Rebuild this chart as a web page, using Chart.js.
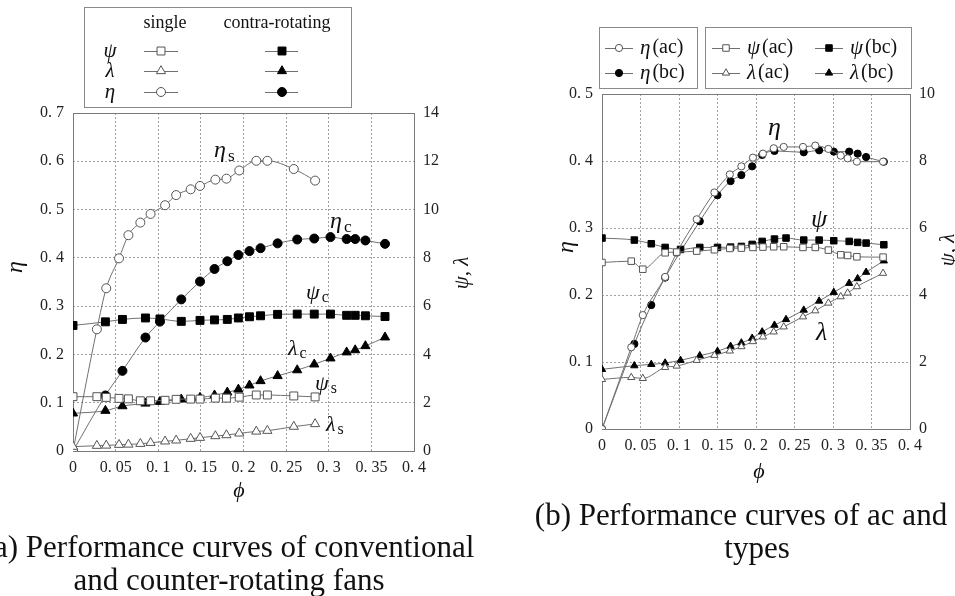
<!DOCTYPE html>
<html>
<head>
<meta charset="utf-8">
<script src="https://cdn.jsdelivr.net/npm/chart.js@4.4.1/dist/chart.umd.min.js"></script>
<style>
  html, body { margin: 0; padding: 0; background: #fff; width: 955px; height: 596px; overflow: hidden; }
  #boxA { position: absolute; left: 0; top: 0; }
  #boxB { position: absolute; left: 500px; top: 0; }
</style>
</head>
<body>
<canvas id="boxA" width="500" height="596"></canvas>
<canvas id="boxB" width="455" height="596"></canvas>
<script>
// (a) single vs contra-rotating fan
const phiSingle = [0, 0.028, 0.039, 0.054, 0.065, 0.079, 0.091, 0.108, 0.121, 0.138, 0.149, 0.167, 0.180, 0.195, 0.215, 0.228, 0.259, 0.284];
const etaSingle = [0, 0.252, 0.337, 0.399, 0.447, 0.473, 0.491, 0.509, 0.530, 0.542, 0.549, 0.562, 0.564, 0.581, 0.601, 0.601, 0.584, 0.560];
const psiSingle = [2.25, 2.25, 2.22, 2.18, 2.16, 2.08, 2.08, 2.10, 2.14, 2.15, 2.15, 2.19, 2.19, 2.23, 2.32, 2.32, 2.28, 2.24];
const lamSingle = [0.18, 0.22, 0.23, 0.26, 0.27, 0.30, 0.34, 0.40, 0.44, 0.51, 0.55, 0.62, 0.66, 0.73, 0.81, 0.84, 1.01, 1.12];

const phiContra = [0, 0.038, 0.058, 0.085, 0.102, 0.127, 0.149, 0.166, 0.181, 0.194, 0.207, 0.220, 0.240, 0.263, 0.283, 0.302, 0.321, 0.331, 0.343, 0.366];
const etaContra = [0, 0.115, 0.166, 0.235, 0.268, 0.314, 0.351, 0.377, 0.393, 0.406, 0.414, 0.420, 0.430, 0.438, 0.440, 0.443, 0.439, 0.439, 0.436, 0.429];
const psiContra = [5.20, 5.35, 5.45, 5.51, 5.47, 5.37, 5.41, 5.43, 5.45, 5.51, 5.56, 5.60, 5.66, 5.67, 5.67, 5.67, 5.62, 5.62, 5.60, 5.57];
const lamContra = [1.56, 1.67, 1.86, 1.97, 2.04, 2.14, 2.21, 2.31, 2.43, 2.55, 2.72, 2.90, 3.11, 3.35, 3.59, 3.84, 4.09, 4.18, 4.35, 4.71];

// (b) ac and bc types
const phiAc = [0, 0.038, 0.053, 0.082, 0.097, 0.123, 0.146, 0.166, 0.181, 0.196, 0.209, 0.223, 0.236, 0.261, 0.277, 0.294, 0.310, 0.319, 0.331, 0.365];
const etaAc = [0, 0.122, 0.170, 0.227, 0.263, 0.313, 0.353, 0.380, 0.392, 0.405, 0.411, 0.419, 0.421, 0.421, 0.423, 0.418, 0.408, 0.404, 0.399, 0.399];
const psiAc = [4.97, 5.01, 4.77, 5.26, 5.28, 5.31, 5.35, 5.39, 5.40, 5.42, 5.43, 5.44, 5.44, 5.42, 5.42, 5.34, 5.20, 5.18, 5.14, 5.13];
const lamAc = [1.48, 1.54, 1.51, 1.84, 1.88, 2.05, 2.20, 2.33, 2.46, 2.61, 2.75, 2.90, 3.05, 3.35, 3.53, 3.76, 3.95, 4.06, 4.25, 4.65];

const phiBc = [0, 0.042, 0.064, 0.082, 0.102, 0.127, 0.150, 0.167, 0.181, 0.195, 0.208, 0.224, 0.239, 0.262, 0.282, 0.301, 0.321, 0.332, 0.343, 0.366];
const etaBc = [0, 0.127, 0.185, 0.226, null, 0.310, 0.349, 0.370, 0.379, 0.392, 0.409, 0.415, null, 0.413, 0.416, 0.414, 0.414, 0.411, 0.406, 0.399];
const psiBc = [5.70, 5.64, 5.53, 5.42, 5.36, 5.42, 5.42, 5.43, 5.45, 5.51, 5.60, 5.67, 5.70, 5.64, 5.64, 5.62, 5.60, 5.57, 5.55, 5.50];
const lamBc = [1.78, 1.89, 1.93, 1.97, 2.05, 2.19, 2.32, 2.47, 2.57, 2.71, 2.90, 3.10, 3.27, 3.55, 3.82, 4.08, 4.35, 4.49, 4.68, 5.02];

const SERIF = '"Liberation Serif", "DejaVu Serif", serif';
const tickFont = { family: SERIF, size: 16 };
const fmtTick = v => v === 0 ? '0' : String(Math.round(v * 100) / 100).replace('.', '. ');
const pts = (xs, ys) => xs.map((x, i) => ({ x: x, y: ys[i] }));

function series(label, xs, ys, axis, shape, filled, r) {
  return {
    label: label,
    data: pts(xs, ys),
    yAxisID: axis,
    borderColor: '#707070',
    borderWidth: 1,
    pointStyle: shape,
    pointRadius: r,
    pointHoverRadius: r,
    pointBorderWidth: 1,
    pointBackgroundColor: filled ? '#000' : '#fff',
    pointBorderColor: filled ? '#000' : '#555',
    cubicInterpolationMode: 'monotone',
    spanGaps: true,
    fill: false
  };
}

function makeScales(yMax, y2Max, y2Step, box) {
  const grid = { color: '#a0a0a0', lineWidth: 1, drawTicks: false };
  return {
    x: {
      type: 'linear', min: 0, max: 0.4,
      ticks: { stepSize: 0.05, autoSkip: false, maxRotation: 0, padding: 7, color: '#222', font: tickFont, callback: fmtTick },
      grid: grid, border: { display: false, dash: [2, 2] },
      afterFit: s => { s.height = box.bottom; }
    },
    y: {
      type: 'linear', min: 0, max: yMax,
      ticks: { stepSize: 0.1, padding: 9, color: '#222', font: tickFont, callback: fmtTick },
      grid: grid, border: { display: false, dash: [2, 2] },
      afterFit: s => { s.width = box.left; }
    },
    y2: {
      type: 'linear', position: 'right', min: 0, max: y2Max,
      ticks: { stepSize: y2Step, padding: 9, color: '#222', font: tickFont, callback: v => String(v) },
      grid: { drawOnChartArea: false, drawTicks: false }, border: { display: false },
      afterFit: s => { s.width = box.right; }
    }
  };
}

function text(ctx, str, x, y, size, opts) {
  opts = opts || {};
  ctx.save();
  ctx.font = (opts.italic ? 'italic ' : '') + size + 'px ' + SERIF;
  ctx.fillStyle = '#111';
  ctx.textAlign = opts.align || 'center';
  ctx.textBaseline = opts.baseline || 'middle';
  ctx.translate(x, y);
  if (opts.rotate) ctx.rotate(opts.rotate);
  ctx.fillText(str, 0, 0);
  ctx.restore();
}

// greek symbol with an upright subscript, as used for curve labels
function symbol(ctx, g, sub, x, y, size) {
  text(ctx, g, x, y, size, { italic: true, align: 'left' });
  ctx.save();
  ctx.font = 'italic ' + size + 'px ' + SERIF;
  const w = ctx.measureText(g).width;
  ctx.restore();
  if (sub) text(ctx, sub, x + w + 2, y + size * 0.22, size * 0.72, { align: 'left' });
}

function marker(ctx, shape, filled, r, x, y) {
  ctx.save();
  ctx.fillStyle = filled ? '#000' : '#fff';
  ctx.strokeStyle = filled ? '#000' : '#555';
  ctx.lineWidth = 1;
  Chart.helpers.drawPoint(ctx, { pointStyle: shape, radius: r, rotation: 0, borderWidth: 1 }, x, y);
  ctx.restore();
}

function sampleLine(ctx, x1, x2, y) {
  ctx.save();
  ctx.strokeStyle = '#707070';
  ctx.lineWidth = 1;
  ctx.beginPath();
  ctx.moveTo(x1, y + 0.5);
  ctx.lineTo(x2, y + 0.5);
  ctx.stroke();
  ctx.restore();
}

function strokeBox(ctx, x1, y1, x2, y2, color) {
  ctx.save();
  ctx.strokeStyle = color;
  ctx.lineWidth = 1;
  ctx.strokeRect(x1 + 0.5, y1 + 0.5, x2 - x1, y2 - y1);
  ctx.restore();
}

const framePlugin = {
  id: 'frame',
  beforeDatasetsDraw(chart) {
    const a = chart.chartArea;
    strokeBox(chart.ctx, Math.round(a.left), Math.round(a.top), Math.round(a.right), Math.round(a.bottom), '#7a7a7a');
  }
};

// ---- chart (a)
const decorA = {
  id: 'decorA',
  afterDraw(chart) {
    const ctx = chart.ctx;
    // legend table
    strokeBox(ctx, 84, 7, 351, 107, '#8a8a8a');
    text(ctx, 'single', 165, 23, 18);
    text(ctx, 'contra-rotating', 277, 23, 18);
    const rows = [['ψ', 'rect', 5.6, 51], ['λ', 'triangle', 5.3, 71], ['η', 'circle', 4.5, 92]];
    rows.forEach(([g, shape, r, y]) => {
      text(ctx, g, 110, y, 21, { italic: true });
      sampleLine(ctx, 144, 178, y);
      marker(ctx, shape, false, r, 161, y);
      sampleLine(ctx, 265, 298, y);
      marker(ctx, shape, true, r, 282, y);
    });
    // axis titles
    text(ctx, 'η', 16, 267, 24, { italic: true, rotate: -Math.PI / 2 });
    text(ctx, 'ψ, λ', 462, 273, 21, { italic: true, rotate: -Math.PI / 2 });
    text(ctx, 'ϕ', 239, 491, 22, { italic: true });
    // curve labels
    symbol(ctx, 'η', 's', 214, 151, 24);
    symbol(ctx, 'η', 'c', 330, 222, 24);
    symbol(ctx, 'ψ', 'c', 306, 293, 22);
    symbol(ctx, 'λ', 'c', 288, 349, 22);
    symbol(ctx, 'ψ', 's', 315, 384, 22);
    symbol(ctx, 'λ', 's', 326, 425, 22);
    // caption
    text(ctx, '(a) Performance curves of conventional', 229, 557, 31, { baseline: 'alphabetic' });
    text(ctx, 'and counter-rotating fans', 229, 590, 31, { baseline: 'alphabetic' });
  }
};

new Chart(document.getElementById('boxA'), {
  type: 'line',
  data: {
    datasets: [
      series('ψ single', phiSingle, psiSingle, 'y2', 'rect', false, 5.6),
      series('λ single', phiSingle, lamSingle, 'y2', 'triangle', false, 5.3),
      series('η single', phiSingle, etaSingle, 'y', 'circle', false, 4.5),
      series('ψ contra-rotating', phiContra, psiContra, 'y2', 'rect', true, 5.6),
      series('λ contra-rotating', phiContra, lamContra, 'y2', 'triangle', true, 5.3),
      series('η contra-rotating', phiContra, etaContra, 'y', 'circle', true, 4.5)
    ]
  },
  options: {
    responsive: false,
    animation: false,
    layout: { padding: { top: 113, left: 0, right: 0, bottom: 0 } },
    plugins: { legend: { display: false }, tooltip: { enabled: false } },
    scales: makeScales(0.7, 14, 2, { left: 73, right: 86, bottom: 145 })
  },
  plugins: [framePlugin, decorA]
});

// ---- chart (b)
const decorB = {
  id: 'decorB',
  afterDraw(chart) {
    const ctx = chart.ctx;
    // legend boxes
    strokeBox(ctx, 99, 27, 197, 88, '#8a8a8a');
    strokeBox(ctx, 205, 27, 411, 88, '#8a8a8a');
    const items = [
      ['η', '(ac)', 'circle', false, 3.6, 105, 48],
      ['η', '(bc)', 'circle', true, 3.6, 105, 73],
      ['ψ', '(ac)', 'rect', false, 4.6, 212, 48],
      ['λ', '(ac)', 'triangle', false, 4.2, 212, 73],
      ['ψ', '(bc)', 'rect', true, 4.6, 315, 48],
      ['λ', '(bc)', 'triangle', true, 4.2, 315, 73]
    ];
    items.forEach(([g, tag, shape, filled, r, x, y]) => {
      sampleLine(ctx, x, x + 28, y);
      marker(ctx, shape, filled, r, x + 14, y);
      text(ctx, g, x + 35, y, 21, { italic: true, align: 'left' });
      ctx.save();
      ctx.font = 'italic 21px ' + SERIF;
      const w = ctx.measureText(g).width;
      ctx.restore();
      text(ctx, tag, x + 37 + w, y, 20, { align: 'left' });
    });
    // axis titles
    text(ctx, 'η', 67, 247, 24, { italic: true, rotate: -Math.PI / 2 });
    text(ctx, 'ψ, λ', 448, 250, 21, { italic: true, rotate: -Math.PI / 2 });
    text(ctx, 'ϕ', 259, 472, 22, { italic: true });
    // curve labels
    symbol(ctx, 'η', '', 268, 128, 26);
    symbol(ctx, 'ψ', '', 311, 220, 26);
    symbol(ctx, 'λ', '', 316, 333, 26);
    // caption
    text(ctx, '(b) Performance curves of ac and', 241, 525, 31, { baseline: 'alphabetic' });
    text(ctx, 'types', 257, 558, 31, { baseline: 'alphabetic' });
  }
};

new Chart(document.getElementById('boxB'), {
  type: 'line',
  data: {
    datasets: [
      series('ψ (ac)', phiAc, psiAc, 'y2', 'rect', false, 4.6),
      series('λ (ac)', phiAc, lamAc, 'y2', 'triangle', false, 4.2),
      series('η (ac)', phiAc, etaAc, 'y', 'circle', false, 3.6),
      series('ψ (bc)', phiBc, psiBc, 'y2', 'rect', true, 4.6),
      series('λ (bc)', phiBc, lamBc, 'y2', 'triangle', true, 4.2),
      series('η (bc)', phiBc, etaBc, 'y', 'circle', true, 3.6)
    ]
  },
  options: {
    responsive: false,
    animation: false,
    layout: { padding: { top: 94, left: 0, right: 0, bottom: 0 } },
    plugins: { legend: { display: false }, tooltip: { enabled: false } },
    scales: makeScales(0.5, 10, 2, { left: 102, right: 45, bottom: 167 })
  },
  plugins: [framePlugin, decorB]
});
</script>
</body>
</html>
